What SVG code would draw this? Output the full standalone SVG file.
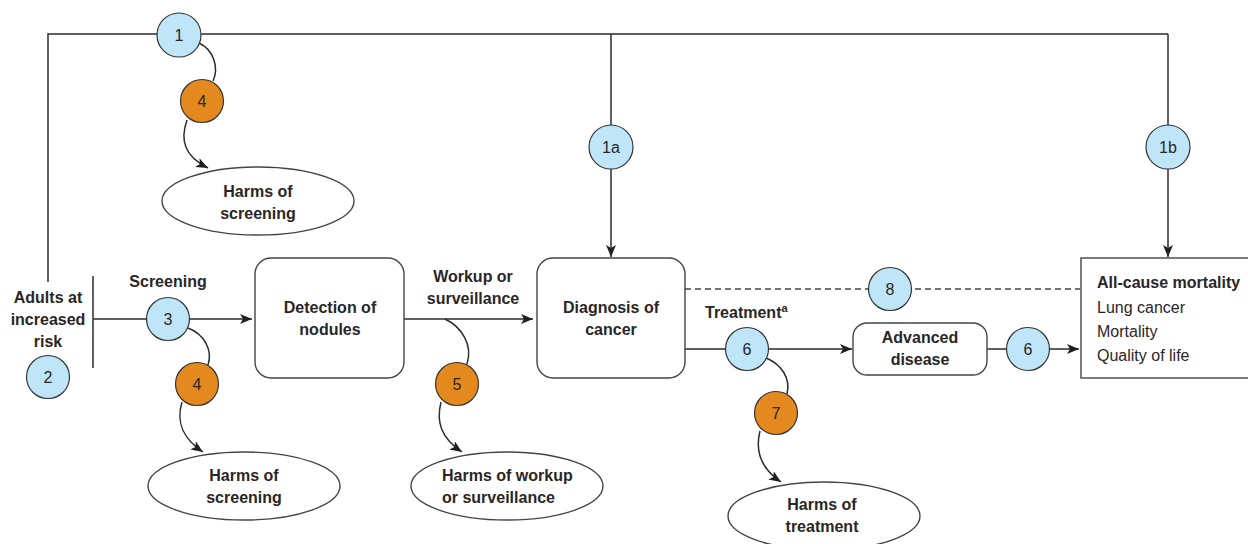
<svg xmlns="http://www.w3.org/2000/svg" width="1248" height="544" viewBox="0 0 1248 544">
<style>
.ln{fill:none;stroke:#2b2b2b;stroke-width:1.5}
.dash{fill:none;stroke:#444;stroke-width:1.3;stroke-dasharray:6,4}
.box{fill:#fff;stroke:#444;stroke-width:1.4}
.kq{fill:#bfe5f8;stroke:#333;stroke-width:1.2}
.hm{fill:#e4891d;stroke:#333;stroke-width:1.2}
.lb{font-family:"Liberation Sans",Arial,sans-serif;font-size:16px;font-weight:bold;fill:#2a2627;text-anchor:middle}
.nm{font-family:"Liberation Sans",Arial,sans-serif;font-size:16px;fill:#2a2627;text-anchor:middle}
.rg{font-family:"Liberation Sans",Arial,sans-serif;font-size:16px;fill:#2a2627}
</style>
<defs>
<marker id="ah" viewBox="0 0 12 10" markerWidth="12" markerHeight="10" refX="12" refY="5" orient="auto" markerUnits="userSpaceOnUse">
<path d="M0,0 L12,5 L0,10 L3,5 z" fill="#1f1f1f"/>
</marker>
</defs>
<rect width="1248" height="544" fill="#fff"/>

<g id="connectors">
<polyline class="ln" points="48,282 48,34 1168,34"/>
<line class="ln" x1="611" y1="34" x2="611" y2="257" marker-end="url(#ah)"/>
<line class="ln" x1="1168" y1="34" x2="1168" y2="257" marker-end="url(#ah)"/>
<path class="ln" d="M199,43 C214,50 219,68 213,81"/>
<path class="ln" d="M187,120 C180,140 184,156 208,168" marker-end="url(#ah)"/>
<line class="ln" x1="93" y1="276" x2="93" y2="368"/>
<line class="ln" x1="93" y1="319" x2="252" y2="319" marker-end="url(#ah)"/>
<path class="ln" d="M188,328 C204,334 213,350 208,365"/>
<path class="ln" d="M182,402 C176,422 182,438 203,452" marker-end="url(#ah)"/>
<line class="ln" x1="404" y1="319" x2="533" y2="319" marker-end="url(#ah)"/>
<path class="ln" d="M445,319 C462,327 473,345 467,364"/>
<path class="ln" d="M441,402 C436,422 441,438 462,452" marker-end="url(#ah)"/>
<line class="dash" x1="685" y1="289" x2="1080" y2="289"/>
<line class="ln" x1="685" y1="349" x2="852" y2="349" marker-end="url(#ah)"/>
<path class="ln" d="M766,358 C781,364 791,378 787,394"/>
<path class="ln" d="M760,431 C755,451 760,468 781,482" marker-end="url(#ah)"/>
<line class="ln" x1="987" y1="349" x2="1079" y2="349" marker-end="url(#ah)"/>
</g>

<g id="adults">
<text class="lb" x="48" y="303">Adults at</text>
<text class="lb" x="48" y="325">increased</text>
<text class="lb" x="48" y="347">risk</text>
</g>
<g id="label-screening"><text class="lb" x="168" y="287">Screening</text></g>
<g id="label-workup"><text class="lb" x="473" y="282">Workup or</text><text class="lb" x="473" y="304">surveillance</text></g>
<g id="label-treatment"><text class="lb" x="705" y="318" style="text-anchor:start">Treatment<tspan font-size="11" dy="-6">a</tspan></text></g>

<g id="detection">
<rect class="box" x="255" y="258" width="149" height="120" rx="16"/>
<text class="lb" x="330" y="313">Detection of</text>
<text class="lb" x="330" y="335">nodules</text>
</g>
<g id="diagnosis">
<rect class="box" x="537" y="258" width="148" height="120" rx="16"/>
<text class="lb" x="611" y="313">Diagnosis of</text>
<text class="lb" x="611" y="335">cancer</text>
</g>
<g id="advanced">
<rect class="box" x="853" y="323" width="134" height="52" rx="14"/>
<text class="lb" x="920" y="343">Advanced</text>
<text class="lb" x="920" y="365">disease</text>
</g>
<g id="outcomes">
<rect class="box" x="1081" y="258" width="180" height="120"/>
<text class="rg" x="1097" y="288" font-weight="bold">All-cause mortality</text>
<text class="rg" x="1097" y="313">Lung cancer</text>
<text class="rg" x="1097" y="337">Mortality</text>
<text class="rg" x="1097" y="361">Quality of life</text>
</g>

<g id="harms-screening-top">
<ellipse class="box" cx="258" cy="201" rx="96" ry="34"/>
<text class="lb" x="258" y="197">Harms of</text>
<text class="lb" x="258" y="219">screening</text>
</g>
<g id="harms-screening">
<ellipse class="box" cx="244" cy="486" rx="96" ry="34"/>
<text class="lb" x="244" y="481">Harms of</text>
<text class="lb" x="244" y="503">screening</text>
</g>
<g id="harms-workup">
<ellipse class="box" cx="507" cy="486" rx="96" ry="34"/>
<text class="lb" x="442" y="481" style="text-anchor:start">Harms of workup</text>
<text class="lb" x="442" y="503" style="text-anchor:start">or surveillance</text>
</g>
<g id="harms-treatment">
<ellipse class="box" cx="824" cy="516" rx="96" ry="34"/>
<text class="lb" x="822" y="510">Harms of</text>
<text class="lb" x="822" y="532">treatment</text>
</g>

<g id="kq1"><circle class="kq" cx="179" cy="35" r="22"/><text class="nm" x="179" y="41">1</text></g>
<g id="kq1a"><circle class="kq" cx="611" cy="147" r="22"/><text class="nm" x="611" y="153">1a</text></g>
<g id="kq1b"><circle class="kq" cx="1168" cy="147" r="22"/><text class="nm" x="1168" y="153">1b</text></g>
<g id="kq2"><circle class="kq" cx="48" cy="377" r="21.5"/><text class="nm" x="48" y="383">2</text></g>
<g id="kq3"><circle class="kq" cx="168" cy="319" r="21.5"/><text class="nm" x="168" y="325">3</text></g>
<g id="kq4-top"><circle class="hm" cx="202" cy="101" r="21.5"/><text class="nm" x="202" y="107">4</text></g>
<g id="kq4"><circle class="hm" cx="197" cy="384" r="21.5"/><text class="nm" x="197" y="390">4</text></g>
<g id="kq5"><circle class="hm" cx="457" cy="384" r="21.5"/><text class="nm" x="457" y="390">5</text></g>
<g id="kq6a"><circle class="kq" cx="747" cy="349" r="21.5"/><text class="nm" x="747" y="355">6</text></g>
<g id="kq6b"><circle class="kq" cx="1028" cy="349" r="21.5"/><text class="nm" x="1028" y="355">6</text></g>
<g id="kq7"><circle class="hm" cx="776" cy="413" r="21.5"/><text class="nm" x="776" y="419">7</text></g>
<g id="kq8"><circle class="kq" cx="890" cy="289" r="21.5"/><text class="nm" x="890" y="295">8</text></g>
</svg>
